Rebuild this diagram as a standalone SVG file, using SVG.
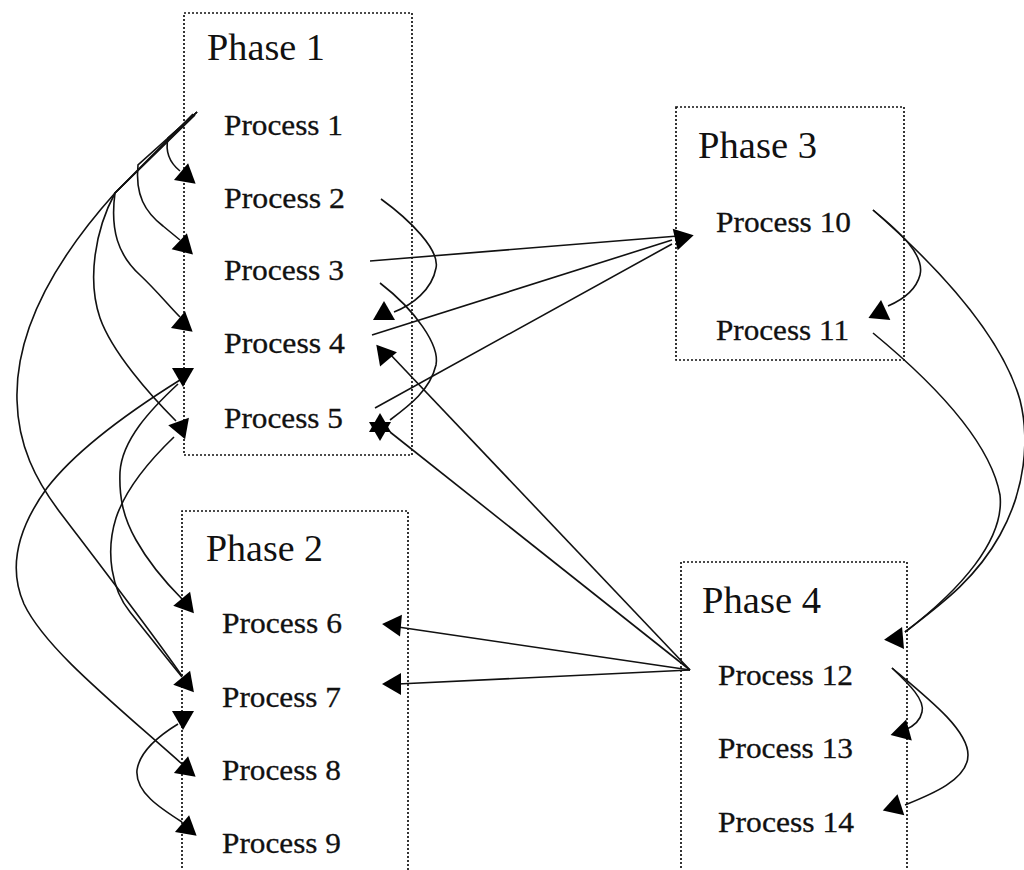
<svg xmlns="http://www.w3.org/2000/svg" width="1024" height="870" viewBox="0 0 1024 870">
<style>
.box{fill:none;stroke:#111;stroke-width:1.7;stroke-dasharray:2 2}
.ph{font-family:"Liberation Serif","Times New Roman",serif;font-size:37px;fill:#111}
.pr{font-family:"Liberation Serif","Times New Roman",serif;font-size:29px;fill:#111;stroke:#111;stroke-width:0.3}
.c{fill:none;stroke:#111;stroke-width:1.6}
.ah{fill:#000}
</style>
<defs>
<path id="ah" d="M0,-12 L11,7 L-11,7 Z"/>
</defs>
<rect width="1024" height="870" fill="#fff"/>

<g id="phase1">
<rect class="box" x="184" y="13" width="228" height="442"/>
<text class="ph" x="207" y="60" textLength="118" lengthAdjust="spacingAndGlyphs">Phase 1</text>
</g>
<g id="phase2">
<path class="box" d="M182,880 L182,511 L408,511 L408,880"/>
<text class="ph" x="206" y="561" textLength="117" lengthAdjust="spacingAndGlyphs">Phase 2</text>
</g>
<g id="phase3">
<rect class="box" x="676" y="107" width="228" height="253"/>
<text class="ph" x="698" y="158" textLength="119" lengthAdjust="spacingAndGlyphs">Phase 3</text>
</g>
<g id="phase4">
<path class="box" d="M681,880 L681,562 L907,562 L907,880"/>
<text class="ph" x="702" y="613" textLength="119" lengthAdjust="spacingAndGlyphs">Phase 4</text>
</g>

<g id="process1"><text class="pr" x="224" y="135" textLength="119" lengthAdjust="spacingAndGlyphs">Process 1</text></g>
<g id="process2"><text class="pr" x="224" y="208" textLength="121" lengthAdjust="spacingAndGlyphs">Process 2</text></g>
<g id="process3"><text class="pr" x="224" y="280" textLength="120" lengthAdjust="spacingAndGlyphs">Process 3</text></g>
<g id="process4"><text class="pr" x="224" y="353" textLength="121" lengthAdjust="spacingAndGlyphs">Process 4</text></g>
<g id="process5"><text class="pr" x="224" y="428" textLength="119" lengthAdjust="spacingAndGlyphs">Process 5</text></g>
<g id="process6"><text class="pr" x="222" y="633" textLength="120" lengthAdjust="spacingAndGlyphs">Process 6</text></g>
<g id="process7"><text class="pr" x="222" y="707" textLength="119" lengthAdjust="spacingAndGlyphs">Process 7</text></g>
<g id="process8"><text class="pr" x="222" y="780" textLength="119" lengthAdjust="spacingAndGlyphs">Process 8</text></g>
<g id="process9"><text class="pr" x="222" y="853" textLength="119" lengthAdjust="spacingAndGlyphs">Process 9</text></g>
<g id="process10"><text class="pr" x="716" y="232" textLength="135" lengthAdjust="spacingAndGlyphs">Process 10</text></g>
<g id="process11"><text class="pr" x="716" y="340" textLength="133" lengthAdjust="spacingAndGlyphs">Process 11</text></g>
<g id="process12"><text class="pr" x="718" y="685" textLength="135" lengthAdjust="spacingAndGlyphs">Process 12</text></g>
<g id="process13"><text class="pr" x="718" y="758" textLength="135" lengthAdjust="spacingAndGlyphs">Process 13</text></g>
<g id="process14"><text class="pr" x="718" y="832" textLength="136" lengthAdjust="spacingAndGlyphs">Process 14</text></g>

<g id="connectors">
<path class="c" d="M197,112 L168,138 C165,152 170,163 180,171"/>
<path class="c" d="M197,112 L138,165 C135,195 145,212 163,226 L180,240"/>
<path class="c" d="M197,112 L115,193 C110,230 118,255 140,275 C158,292 168,305 180,317"/>
<path class="c" d="M195,115 L115,193 C95,230 87,280 100,318 C112,352 150,395 176,421"/>
<path class="c" d="M193,114 L115,193 C55,260 15,330 17,400 C18,445 35,480 62,515 C100,565 150,630 182,676"/>
<path class="c" d="M180,380 C140,405 80,445 47,488 C18,528 8,568 24,604 C45,648 110,700 182,764"/>
<path class="c" d="M178,384 C150,410 122,440 120,472 C119,497 123,517 136,540 C150,565 168,585 183,600"/>
<path class="c" d="M174,437 C150,460 126,488 116,518 C105,553 112,590 130,612 C150,637 168,660 182,677"/>
<path class="c" d="M178,724 C160,735 140,750 137,770 C135,792 160,808 182,822"/>
<path class="c" d="M381,199 C410,220 440,250 436,268 C432,290 412,305 394,312"/>
<path class="c" d="M370,261 L678,236"/>
<path class="c" d="M372,335 L672,240"/>
<path class="c" d="M375,408 L672,244"/>
<path class="c" d="M380,283 C415,310 440,345 436,365 C430,390 410,405 390,420"/>
<path class="c" d="M690,670 L388,352"/>
<path class="c" d="M690,670 L390,432"/>
<path class="c" d="M690,670 L398,627"/>
<path class="c" d="M690,670 L398,684"/>
<path class="c" d="M873,210 C900,232 925,255 920,275 C916,290 902,300 888,306"/>
<path class="c" d="M873,210 C930,260 1000,330 1020,400 C1030,440 1025,490 1000,535 C975,580 940,605 905,632"/>
<path class="c" d="M873,333 C930,380 990,440 1000,495 C1005,540 960,590 905,632"/>
<path class="c" d="M892,668 C910,685 925,700 922,712 C920,722 912,727 905,730"/>
<path class="c" d="M892,668 C930,700 968,730 968,755 C968,780 930,795 905,805"/>

<use class="ah" href="#ah" transform="translate(186,175) rotate(10)"/>
<use class="ah" href="#ah" transform="translate(184,245) rotate(14)"/>
<use class="ah" href="#ah" transform="translate(183,323) rotate(10)"/>
<use class="ah" href="#ah" transform="translate(183,375) rotate(180)"/>
<use class="ah" href="#ah" transform="translate(181,428) rotate(160)"/>
<use class="ah" href="#ah" transform="translate(186,603) rotate(20)"/>
<use class="ah" href="#ah" transform="translate(186,682) rotate(20)"/>
<use class="ah" href="#ah" transform="translate(183,718) rotate(180)"/>
<use class="ah" href="#ah" transform="translate(186,768) rotate(10)"/>
<use class="ah" href="#ah" transform="translate(187,827) rotate(10)"/>
<use class="ah" href="#ah" transform="translate(384,313)"/>
<use class="ah" href="#ah" transform="translate(384,354) rotate(-40)"/>
<use class="ah" href="#ah" transform="translate(380,425)"/>
<use class="ah" href="#ah" transform="translate(380,429) rotate(180)"/>
<use class="ah" href="#ah" transform="translate(682,238) rotate(77)"/>
<use class="ah" href="#ah" transform="translate(880,312) rotate(5)"/>
<use class="ah" href="#ah" transform="translate(897,638) rotate(25)"/>
<use class="ah" href="#ah" transform="translate(903,731) rotate(15)"/>
<use class="ah" href="#ah" transform="translate(895,806) rotate(12)"/>
<use class="ah" href="#ah" transform="translate(394,625) rotate(-85)"/>
<use class="ah" href="#ah" transform="translate(394,684) rotate(-90)"/>
</g>
</svg>
